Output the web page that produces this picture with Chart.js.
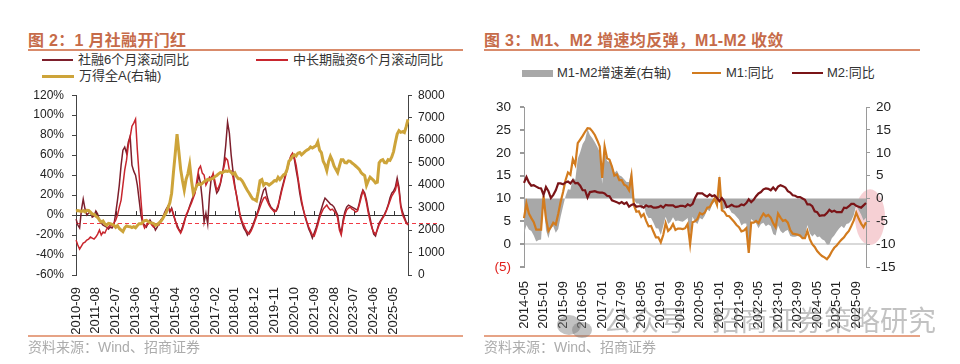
<!DOCTYPE html>
<html>
<head>
<meta charset="utf-8">
<script src="https://cdn.jsdelivr.net/npm/chart.js@4/dist/chart.umd.min.js"></script>
<style>
  body { margin:0; width:960px; height:364px; background:#fff; position:relative; overflow:hidden;
         font-family:"Liberation Sans","Noto Sans CJK SC",sans-serif; }
  .title { position:absolute; top:27px; font-size:16px; font-weight:bold; color:#c66b49; white-space:nowrap; letter-spacing:0.3px; }
  .rule { position:absolute; height:2px; background:#d98b6b; }
  .rule2 { position:absolute; height:1.5px; background:#e6a386; }
  .lg { position:absolute; font-size:13px; line-height:16px; color:#333; white-space:nowrap; }
  .sw { position:absolute; }
  .src { position:absolute; top:338px; font-size:14px; line-height:18px; color:#acacac; white-space:nowrap; }
  .cv { position:absolute; }
  .wm { position:absolute; left:603px; top:304px; font-size:28px; line-height:36px; color:rgba(120,120,120,0.45); white-space:nowrap; z-index:5; }
  .bub { position:absolute; border-radius:50%; background:rgba(120,120,120,0.45); z-index:5; }
</style>
</head>
<body>

<div class="title" style="left:28px">图 2：1 月社融开门红</div>
<div class="rule" style="left:28px;top:49px;width:435px"></div>
<div class="sw" style="left:42px;top:59px;width:31px;height:2px;background:#7d1f2c"></div>
<div class="lg" style="left:78px;top:52px">社融6个月滚动同比</div>
<div class="sw" style="left:256px;top:59px;width:32px;height:2px;background:#c8262e"></div>
<div class="lg" style="left:293px;top:52px">中长期融资6个月滚动同比</div>
<div class="sw" style="left:42px;top:75px;width:32px;height:3px;background:#cda43a"></div>
<div class="lg" style="left:79px;top:68px">万得全A(右轴)</div>
<div class="cv" style="left:0;top:80px"><canvas id="c1" width="480" height="256"></canvas></div>
<div class="rule2" style="left:28px;top:335px;width:435px"></div>
<div class="src" style="left:28px">资料来源：Wind、招商证券</div>

<div class="title" style="left:484px">图 3：M1、M2 增速均反弹，M1-M2 收敛</div>
<div class="rule" style="left:484px;top:49px;width:436px"></div>
<div class="sw" style="left:522px;top:70px;width:31px;height:7px;background:#a8a8a8"></div>
<div class="lg" style="left:557px;top:65px">M1-M2增速差(右轴)</div>
<div class="sw" style="left:692px;top:72px;width:29px;height:2px;background:#d27b1e"></div>
<div class="lg" style="left:726px;top:65px">M1:同比</div>
<div class="sw" style="left:792px;top:72px;width:31px;height:2px;background:#7a1417"></div>
<div class="lg" style="left:827px;top:65px">M2:同比</div>
<div class="cv" style="left:480px;top:90px"><canvas id="c2" width="480" height="246"></canvas></div>
<div class="rule2" style="left:484px;top:335px;width:436px"></div>
<div class="src" style="left:484px">资料来源：Wind、招商证券</div>

<div class="bub" style="left:557px;top:315px;width:24px;height:20px"></div>
<div class="bub" style="left:572px;top:322px;width:20px;height:16px"></div>
<div class="wm">公众号 · 招商证券策略研究</div>

<script>
// ---- 图2 数据 (2010-09 ~ 2026-01, 月度) ----
const tsfRoll = [
  -4, -10, -13, 5,
  16, 6, 0, 2, 3, -2, -1, 4, 1, -6, -8, -10,
  -11, -12, -14, -12, -13, -10, 2, 15, 30, 50, 65, 68,
  62, 73, 79, 50, 44, 40, 30, 15, 0, -8, -10, -12,
  -8, -5, -8, -10, -15, -12, -8, -5, -3, 2, 6, 9,
  3, 7, 1, -6, -10, -14, -17, -12, -6, -1, 3, 9,
  14, 19, 24, 30, 40, 32, 15, -7, 2, -9, 20, 38,
  40, 30, 22, 25, 31, 40, 52, 70, 93, 82, 60, 44,
  30, 19, 8, -2, -8, -13, -16, -20, -17, -14, -10, -5,
  0, 5, 12, 19, 25, 27, 18, 12, 8, 6, 5, 4,
  8, 18, 26, 33, 40, 47, 53, 58, 61, 56, 45, 35,
  22, 12, 5, -2, -8, -14, -18, -23, -18, -13, -7, 0,
  6, 12, 17, 15, 13, 11, 10, 8, 4, 0, -12, -18,
  -5, 3, 8, 10, 9, 8, 7, 6, 5, 12, 20, 25,
  22, 15, 5, -3, -12, -19, -21, -14, -8, -5, -2, 1,
  5, 10, 17, 22, 24, 28, 37, 28, 10, 3, -2, -7,
  -9
];
const mltRoll = [
  -25, -30, -34, -31,
  -28, -27, -25, -24, -22, -23, -24, -22, -19, -15, -20, -17,
  -18, -14, -12, -10, -11, -8, -5, 0, 8, 15, 30, 45,
  55, 70, 78, 89, 92, 96, 65, 40, 15, -8, -13, -10,
  -9, -7, -10, -12, -10, -9, -10, -6, -4, 0, 4, 8,
  5, 6, 0, -5, -12, -15, -18, -14, -8, 0, 4, 8,
  12, 17, 22, 35, 46, 49, 42, 40, 30, 34, 38, 36,
  42, 34, 25, 28, 32, 42, 48, 57, 55, 45, 44, 38,
  28, 20, 10, 0, -6, -10, -14, -17, -19, -16, -12, -7,
  -2, 3, 8, 13, 17, 18, 14, 10, 7, 5, 3, 5,
  10, 16, 24, 31, 38, 45, 52, 59, 62, 58, 50, 38,
  26, 15, 6, -1, -7, -12, -16, -20, -21, -16, -10, -3,
  2, 6, 8, 10, 7, 5, 6, 4, 2, -3, -15, -20,
  -8, 0, 5, 7, 8, 6, 5, 3, 4, 10, 17, 24,
  20, 12, 2, -6, -13, -17, -19, -15, -10, -6, -3, 0,
  4, 9, 14, 19, 22, 25, 33, 25, 8, 0, -4, -8,
  -10
];
const windA = [
  2850, 2870, 2850, 2830,
  2860, 2810, 2880, 2870, 2800, 2710, 2700, 2620, 2560, 2450, 2360, 2400,
  2270, 2210, 2300, 2280, 2250, 2210, 2120, 2200, 2070, 2000, 1930, 2100,
  2180, 2160, 2150, 2110, 2150, 2100, 2200, 2280, 2280, 2350, 2420, 2430,
  2380, 2330, 2320, 2290, 2210, 2240, 2320, 2380, 2500, 2650, 2780, 2990,
  3210, 3640, 4560, 5400, 6270, 5490, 4700, 4200, 3780, 4250, 4500, 4920,
  4200, 3640, 3800, 3990, 4060, 4020, 4080, 4150, 4200, 4250, 4230, 4280,
  4300, 4380, 4430, 4500, 4560, 4540, 4600, 4630, 4610, 4640, 4560, 4490,
  4550, 4380, 4280, 4280, 4200, 4060, 3900, 3760, 3640, 3500, 3380, 3350,
  3300, 3700, 4200, 4250, 4000, 4080, 4060, 4000, 4060, 4120, 4200, 4180,
  4350, 4250, 4350, 4450, 4500, 4700, 5060, 5150, 5280, 5350, 5300, 5420,
  5450, 5350, 5420, 5500, 5560, 5600, 5700, 5650, 5700, 5750, 5920, 5560,
  5450, 5060, 4900, 4640, 5050, 5280, 5100, 4850, 4700, 4560, 4850, 5130,
  5130, 5000, 4990, 5080, 5060, 4980, 4920, 4850, 4780, 4700, 4560, 4480,
  4420, 3990, 4200, 4350, 4280, 4200, 4100, 4130, 4990, 5100, 5130, 5000,
  4990, 5130, 5100, 5250, 5490, 5900, 6270, 6420, 6350, 6380, 6340, 6600,
  6920
];
const refLevel = -8;          // 红色虚线
const tickEveryL = 11;

// ---- 图3 数据 (2014-05 ~ 2026-01, 月度) ----
const m1 = [
  5.7, 8.9, 6.7, 5.7, 4.8, 3.2, 3.2, 3.2,
  10.6, 5.6, 2.9, 3.7, 4.7, 4.3, 6.6, 9.3, 11.4, 14.0, 15.7, 15.2,
  18.6, 17.4, 22.1, 22.9, 23.7, 24.6, 25.4, 25.3, 24.7, 23.9, 22.7, 21.4,
  14.5, 21.4, 18.8, 18.5, 17.0, 15.0, 15.3, 14.0, 14.0, 13.0, 12.7, 11.8,
  15.0, 8.5, 7.1, 7.2, 6.0, 6.6, 5.1, 3.9, 4.0, 2.7, 1.5, 1.5,
  0.4, 2.0, 4.6, 2.9, 3.4, 4.4, 3.1, 3.4, 3.4, 3.3, 3.5, 4.4,
  0.0, 4.8, 5.0, 5.5, 6.8, 6.5, 6.9, 8.0, 8.1, 9.1, 10.0, 8.6,
  14.7, 7.4, 7.1, 6.2, 6.1, 5.5, 4.9, 4.2, 3.7, 2.8, 3.0, 3.5,
  -1.9, 4.7, 4.7, 5.1, 4.6, 5.8, 6.7, 6.1, 6.4, 5.8, 4.6, 3.7,
  6.7, 5.8, 5.1, 5.3, 4.7, 3.1, 2.3, 2.2, 2.1, 1.9, 1.3, 1.3,
  2.9, 1.1, 0.0, -0.6, -1.5, -2.1, -2.6, -2.9, -3.3, -2.6, -1.6, -0.8,
  -0.3, 0.4, 1.0, 1.5, 2.3, 2.9, 4.0, 5.2, 6.9, 5.6, 4.5, 3.7,
  4.8
];
const m2 = [
  13.4, 14.7, 13.5, 12.8, 12.9, 12.6, 12.3, 12.2,
  10.8, 12.5, 11.6, 10.1, 10.8, 11.8, 13.3, 13.3, 13.1, 13.5, 13.7, 13.3,
  14.0, 13.3, 13.4, 12.8, 11.8, 11.8, 10.2, 11.4, 11.5, 11.6, 11.4, 11.3,
  11.3, 11.1, 10.6, 10.5, 9.6, 9.4, 9.2, 8.9, 9.2, 8.8, 9.1, 8.2,
  8.6, 8.8, 8.2, 8.3, 8.3, 8.0, 8.5, 8.2, 8.3, 8.0, 8.0, 8.1,
  8.4, 8.0, 8.6, 8.5, 8.5, 8.5, 8.1, 8.2, 8.4, 8.4, 8.2, 8.7,
  8.4, 8.8, 10.1, 11.1, 11.1, 11.1, 10.7, 10.4, 10.9, 10.5, 10.7, 10.1,
  9.4, 10.1, 9.4, 8.1, 8.3, 8.6, 8.3, 8.2, 8.3, 8.7, 8.5, 9.0,
  9.8, 9.2, 9.7, 10.5, 11.1, 11.4, 12.0, 12.2, 12.1, 11.8, 12.4, 11.8,
  12.6, 12.9, 12.7, 12.4, 11.6, 11.3, 10.7, 10.6, 10.3, 10.3, 10.0, 9.7,
  8.7, 8.7, 8.3, 7.2, 7.0, 6.2, 6.3, 6.3, 6.8, 7.5, 7.1, 7.3,
  7.0, 7.0, 7.0, 8.0, 7.9, 8.3, 8.8, 8.8, 8.4, 8.2, 8.0, 8.5,
  9.0
];
const m1m2Gap = [
  -7.7, -5.8, -6.8, -7.1, -8.1, -9.4, -9.1, -9.0,
  -0.2, -6.9, -8.7, -6.4, -6.1, -7.5, -6.7, -4.0, -1.7, 0.5, 2.0, 1.9,
  4.6, 4.1, 8.7, 10.1, 11.9, 12.8, 15.2, 13.9, 13.2, 12.3, 11.3, 10.1,
  3.2, 10.3, 8.2, 8.0, 7.4, 5.6, 6.1, 5.1, 4.8, 4.2, 3.6, 3.6,
  6.4, -0.3, -1.1, -1.1, -2.3, -1.4, -3.4, -4.3, -4.3, -5.3, -6.5, -6.6,
  -8.0, -6.0, -4.0, -5.6, -5.1, -4.1, -5.0, -4.8, -5.0, -5.1, -4.7, -4.3,
  -8.4, -4.0, -5.1, -5.6, -4.3, -4.6, -3.8, -2.4, -2.8, -1.4, -0.7, -1.5,
  5.3, -2.7, -2.3, -1.9, -2.2, -3.1, -3.4, -4.0, -4.6, -5.9, -5.5, -5.5,
  -11.7, -4.5, -5.0, -5.4, -6.5, -5.6, -5.3, -6.1, -5.7, -6.0, -7.8, -8.1,
  -5.9, -7.1, -7.6, -7.1, -6.9, -8.2, -8.4, -8.4, -8.2, -8.4, -8.7, -8.4,
  -5.8, -7.6, -8.3, -7.8, -8.5, -8.3, -8.9, -9.2, -10.1, -10.1, -8.7, -8.1,
  -7.3, -6.6, -6.0, -6.5, -5.6, -5.4, -4.8, -3.6, -1.5, -2.6, -3.5, -4.8,
  -4.2
];
const highlightRange = [2, -10.2];   // 右轴粉色椭圆标注
const tickEveryR = 8;

function months(y, m, n) {
  const out = [];
  for (let i = 0; i < n; i++) {
    const k = m - 1 + i;
    out.push((y + Math.floor(k / 12)) + '-' + String(k % 12 + 1).padStart(2, '0'));
  }
  return out;
}
const labelsL = months(2010, 9, tsfRoll.length);
const labelsR = months(2014, 5, m1.length);

const FONT = '"Liberation Sans", "Noto Sans CJK SC", sans-serif';
Chart.defaults.font.family = FONT;
Chart.defaults.color = '#222';

// 0 轴上的小刻度 + 红色虚线
const leftDeco = {
  id: 'leftDeco',
  beforeDatasetsDraw(chart) {
    const { ctx, chartArea, scales } = chart;
    const y0 = scales.y.getPixelForValue(0);
    ctx.save();
    ctx.strokeStyle = '#333';
    ctx.lineWidth = 1;
    scales.x.ticks.forEach((t, i) => {
      const x = Math.round(scales.x.getPixelForTick(i)) + 0.5;
      ctx.beginPath(); ctx.moveTo(x, y0); ctx.lineTo(x, y0 - 4); ctx.stroke();
    });
    const yr = Math.round(scales.y.getPixelForValue(refLevel)) + 0.5;
    ctx.strokeStyle = '#f03a44';
    ctx.lineWidth = 1.2;
    ctx.setLineDash([4, 3]);
    ctx.beginPath(); ctx.moveTo(chartArea.left, yr); ctx.lineTo(chartArea.right + 30, yr); ctx.stroke();
    ctx.restore();
  }
};

const pinkMark = {
  id: 'pinkMark',
  beforeDraw(chart) {
    const { ctx, chartArea, scales } = chart;
    const top = scales.y2.getPixelForValue(highlightRange[0]);
    const bot = scales.y2.getPixelForValue(highlightRange[1]);
    ctx.save();
    ctx.fillStyle = 'rgba(236,150,160,0.45)';
    ctx.beginPath();
    ctx.ellipse(chartArea.right + 4, (top + bot) / 2, 15, (bot - top) / 2, 0, 0, Math.PI * 2);
    ctx.fill();
    ctx.restore();
  }
};

new Chart(document.getElementById('c1'), {
  type: 'line',
  data: {
    labels: labelsL,
    datasets: [
      { label: '社融6个月滚动同比', data: tsfRoll, yAxisID: 'y', borderColor: '#7d1f2c', borderWidth: 1.5, pointRadius: 0, order: 2 },
      { label: '中长期融资6个月滚动同比', data: mltRoll, yAxisID: 'y', borderColor: '#c8262e', borderWidth: 1.5, pointRadius: 0, order: 1 },
      { label: '万得全A(右轴)', data: windA, yAxisID: 'y1', borderColor: '#cda43a', borderWidth: 3, pointRadius: 0, order: 0 }
    ]
  },
  options: {
    responsive: false, animation: false,
    layout: { padding: { top: 8 } },
    plugins: { legend: { display: false }, tooltip: { enabled: false } },
    scales: {
      x: {
        offset: false,
        grid: { display: false }, border: { display: false },
        afterBuildTicks: ax => { ax.ticks = ax.ticks.filter(t => t.value % tickEveryL === 0); },
        ticks: { autoSkip: false, minRotation: 90, maxRotation: 90, padding: 4, font: { size: 13 } },
        afterFit: s => { s.height = 61; }
      },
      y: {
        min: -60, max: 120,
        ticks: { stepSize: 20, padding: 8, font: { size: 12 }, callback: v => v + '%' },
        grid: { color: c => c.tick && c.tick.value === 0 ? '#333' : 'rgba(0,0,0,0)', tickColor: '#444', tickLength: 4 },
        border: { color: '#444' },
        afterFit: s => { s.width = 76; }
      },
      y1: {
        position: 'right', min: 0, max: 8000,
        ticks: { stepSize: 1000, padding: 6, font: { size: 12 }, callback: v => String(v) },
        grid: { drawOnChartArea: false, tickColor: '#444', tickLength: 4 },
        border: { color: '#444' },
        afterFit: s => { s.width = 72; }
      }
    }
  },
  plugins: [leftDeco]
});

new Chart(document.getElementById('c2'), {
  type: 'line',
  data: {
    labels: labelsR,
    datasets: [
      { label: 'M2:同比', data: m2, yAxisID: 'y', borderColor: '#7a1417', borderWidth: 2.2, pointRadius: 0, order: 0 },
      { label: 'M1:同比', data: m1, yAxisID: 'y', borderColor: '#d27b1e', borderWidth: 2.2, pointRadius: 0, order: 1 },
      { label: 'M1-M2增速差(右轴)', data: m1m2Gap, yAxisID: 'y2', backgroundColor: '#a8a8a8', borderWidth: 0,
        pointRadius: 0, fill: 'origin', order: 2 }
    ]
  },
  options: {
    responsive: false, animation: false,
    layout: { padding: { top: 14 } },
    plugins: { legend: { display: false }, tooltip: { enabled: false } },
    scales: {
      x: {
        offset: false,
        grid: { display: false }, border: { display: false },
        afterBuildTicks: ax => { ax.ticks = ax.ticks.filter(t => t.value % tickEveryR === 0); },
        ticks: { autoSkip: false, minRotation: 90, maxRotation: 90, padding: 6, font: { size: 13 } },
        afterFit: s => { s.height = 69; }
      },
      y: {
        min: -5, max: 30,
        ticks: { stepSize: 5, padding: 9, font: { size: 13.5 },
                 callback: v => v < 0 ? '(' + (-v) + ')' : v,
                 color: c => c.tick && c.tick.value < 0 ? '#e0201c' : '#222' },
        grid: { color: c => c.tick && c.tick.value === 0 ? '#d9d9d9' : 'rgba(0,0,0,0)', lineWidth: 2, tickColor: '#9a9a9a', tickLength: 4 },
        border: { color: '#9a9a9a' },
        afterFit: s => { s.width = 44; }
      },
      y2: {
        position: 'right', min: -15, max: 20,
        ticks: { stepSize: 5, padding: 6, font: { size: 13.5 } },
        grid: { drawOnChartArea: false, tickColor: '#9a9a9a', tickLength: 4 },
        border: { color: '#9a9a9a' },
        afterFit: s => { s.width = 94; }
      }
    }
  },
  plugins: [pinkMark]
});
</script>
</body>
</html>
